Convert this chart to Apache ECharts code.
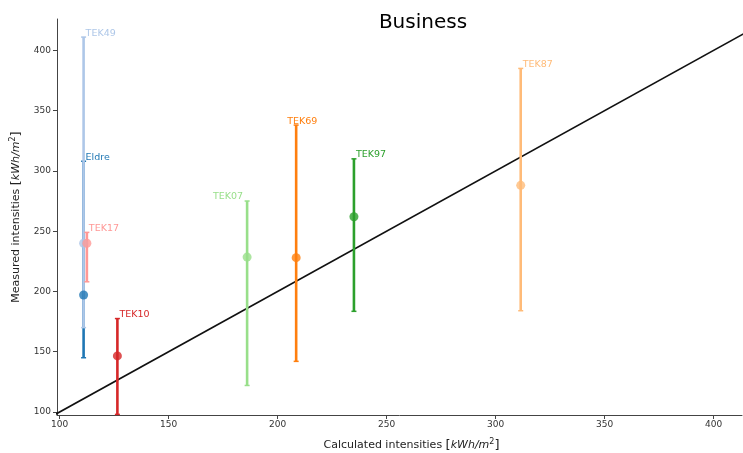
<!DOCTYPE html>
<html><head><meta charset="utf-8">
<script src="https://cdn.jsdelivr.net/npm/echarts@6/dist/echarts.min.js"></script>
<style>html,body{margin:0;padding:0;background:#fff}#c{width:743px;height:453px}</style>
</head><body><div id="c"></div>
<script>
// ---- data ----
const names  = ['Eldre','TEK49','TEK17','TEK10','TEK07','TEK69','TEK97','TEK87'];
const calc   = [111, 111, 112.5, 126.5, 186, 208.5, 235, 311.5];
const meas   = [197, 240, 240, 146.5, 228.5, 228, 262, 288];
const lows   = [145, 170, 208, 98, 122, 142, 183.5, 184];
const highs  = [308, 411, 249, 177.5, 275, 338, 310, 385];
const colors = ['#1f77b4','#aec7e8','#ff9896','#d62728','#98df8a','#ff7f0e','#2ca02c','#ffbb78'];
const tickVals = [100, 150, 200, 250, 300, 350, 400];
const diag = [[98, 98], [420, 420]];
// label placement (style only)
const labelPlace = {TEK07:{dx:-4, align:'right'}, TEK69:{dx:-9, align:'left'}};

const chart = echarts.init(document.getElementById('c'), null, {renderer:'canvas'});
const FONT = 'DejaVu Sans';
const errData = names.map((n,i)=>[calc[i], lows[i], highs[i], i]);
const rich = {
  a:{fontFamily:FONT, fontSize:11, color:'#222'},
  b:{fontFamily:FONT, fontSize:13, color:'#222'},
  c:{fontFamily:FONT, fontSize:11, fontStyle:'italic', color:'#222'},
  s:{fontFamily:FONT, fontSize:8, color:'#222', verticalAlign:'top', padding:[0,0,7,0]}
};

chart.setOption({
  animation:false,
  title:{text:'Business', left:418, top:8, textAlign:'center',
    textStyle:{fontFamily:FONT, fontSize:20, fontWeight:'normal', color:'#000'}},
  grid:{left:57, right:1, top:19, bottom:38, containLabel:false, outerBoundsMode:'none'},
  xAxis:{type:'value', min:98.8, max:413,
    splitLine:{show:false},
    axisLine:{onZero:false, lineStyle:{color:'#444', width:1}},
    axisTick:{customValues:tickVals, length:4, lineStyle:{color:'#444'}},
    axisLabel:{customValues:tickVals, fontFamily:FONT, fontSize:9, color:'#333', margin:5},
    name:'{a|Calculated intensities }{b|[}{c|kWh/m}{s|2}{b|]}', nameLocation:'middle', nameGap:23,
    nameTextStyle:{rich:rich, padding:[0,0,0,24]}
  },
  yAxis:{type:'value', min:97.5, max:426,
    splitLine:{show:false},
    axisLine:{show:true, onZero:false, lineStyle:{color:'#444', width:1}},
    axisTick:{show:true, customValues:tickVals, length:4, lineStyle:{color:'#444'}},
    axisLabel:{customValues:tickVals, fontFamily:FONT, fontSize:9, color:'#333', margin:6},
    name:'{a|Measured intensities }{b|[}{c|kWh/m}{s|2}{b|]}', nameLocation:'middle', nameGap:31, nameRotate:90,
    nameTextStyle:{rich:rich}
  },
  series:[
    {type:'line', data:diag, symbol:'none', lineStyle:{color:'#111', width:1.6}, z:1, silent:true},
    {type:'custom', data:errData, z:2, clip:false,
     renderItem:function(params, api){
       const x = api.value(0), lo = api.value(1), hi = api.value(2), i = api.value(3);
       const pLo = api.coord([x, lo]), pHi = api.coord([x, hi]);
       const yBottom = api.coord([x, 97.5])[1];
       const lowY = Math.min(pLo[1], yBottom);
       const c = colors[i];
       const st = {stroke:c, lineWidth:2.6};
       const place = labelPlace[names[i]] || {dx:2, align:'left'};
       return {type:'group', children:[
         {type:'line', shape:{x1:pHi[0], y1:pHi[1], x2:pLo[0], y2:lowY}, style:st},
         {type:'line', shape:{x1:pHi[0]-2.5, y1:pHi[1], x2:pHi[0]+2.5, y2:pHi[1]}, style:{stroke:c, lineWidth:1.5}},
         {type:'line', shape:{x1:pLo[0]-2.5, y1:lowY, x2:pLo[0]+2.5, y2:lowY}, style:{stroke:c, lineWidth:1.5}},
         {type:'text', x:pHi[0]+place.dx, y:pHi[1]-4,
          style:{text:names[i], fill:c, font:'9.5px "DejaVu Sans"', textAlign:place.align, textVerticalAlign:'middle'}}
       ]};
     }},
    {type:'scatter', data:names.map((n,i)=>({value:[calc[i], meas[i]], itemStyle:{color:colors[i]}})),
     symbolSize:9, z:3}
  ]
});
</script></body></html>
